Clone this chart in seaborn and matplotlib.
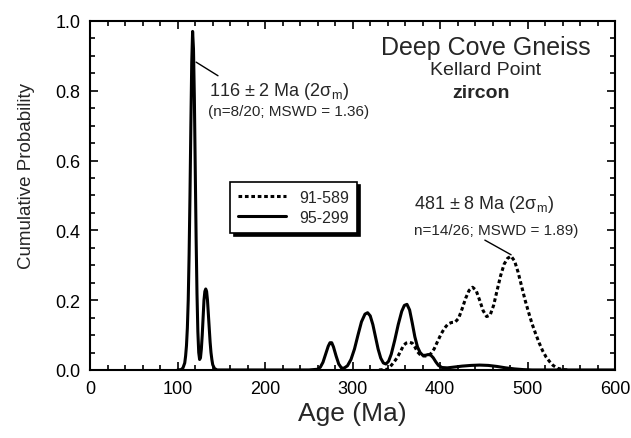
import matplotlib
matplotlib.use("Agg")
import matplotlib.pyplot as plt
from matplotlib.ticker import MultipleLocator
import seaborn as sns

# probability density curves
age_95299 = [100, 104, 106, 108, 109, 110, 111, 112, 113, 114, 115, 116, 117, 118, 119,
             120, 121, 122, 123, 124, 125, 126, 127, 128, 129, 130, 131, 132, 133, 134,
             135, 136, 137, 138, 139, 140, 142, 145, 150,
             250, 260, 263, 266, 269, 272, 274, 276, 278, 281, 284, 287, 290, 294, 298,
             302, 306, 310, 314, 317, 320, 323, 326, 329, 332, 335, 338, 341, 344, 348,
             352, 356, 359, 362, 365, 368, 371, 374, 377, 380, 383, 386, 389, 392, 395,
             398, 402, 408, 415, 425, 435, 445, 455, 465, 475, 485, 495, 505, 600]
prob_95299 = [0, 0.001, 0.006, 0.02, 0.04, 0.07, 0.12, 0.2, 0.33, 0.5, 0.7, 0.88, 0.97, 0.92, 0.78,
              0.58, 0.38, 0.22, 0.11, 0.05, 0.03, 0.035, 0.06, 0.1, 0.15, 0.2, 0.225, 0.232, 0.225, 0.2,
              0.16, 0.12, 0.08, 0.05, 0.03, 0.015, 0.004, 0.0, 0.0,
              0, 0.002, 0.008, 0.022, 0.045, 0.068, 0.078, 0.078, 0.066, 0.04, 0.017, 0.006, 0.005, 0.012, 0.03,
              0.06, 0.1, 0.138, 0.16, 0.164, 0.155, 0.13, 0.095, 0.06, 0.034, 0.02, 0.017, 0.025, 0.045, 0.085,
              0.13, 0.168, 0.185, 0.188, 0.172, 0.135, 0.095, 0.066, 0.05, 0.042, 0.042, 0.044, 0.043, 0.035, 0.023,
              0.013, 0.007, 0.006, 0.008, 0.011, 0.013, 0.014, 0.013, 0.01, 0.006, 0.003, 0.001, 0, 0]

age_91589 = [330, 340, 343, 347, 351, 355, 358, 361, 365, 368, 371, 374, 377, 381, 385,
             389, 393, 397, 401, 405, 409, 413, 417, 421, 425, 429, 433, 437, 441, 445,
             449, 453, 457, 461, 465, 469, 473, 477, 481, 485, 489, 493, 497, 501, 505,
             509, 513, 517, 521, 525, 529, 534, 540, 546]
prob_91589 = [0, 0.002, 0.01, 0.022, 0.036, 0.055, 0.07, 0.077, 0.079, 0.077, 0.066, 0.052, 0.044, 0.04, 0.04,
              0.046, 0.06, 0.082, 0.103, 0.12, 0.132, 0.136, 0.137, 0.148, 0.175, 0.205, 0.228, 0.237, 0.228, 0.2,
              0.17, 0.153, 0.157, 0.185, 0.228, 0.27, 0.303, 0.32, 0.326, 0.312, 0.28, 0.24, 0.2, 0.165, 0.132,
              0.104, 0.078, 0.055, 0.037, 0.024, 0.013, 0.005, 0.001, 0]

sns.set_style("ticks")
plt.rcParams["font.family"] = ["Liberation Sans", "DejaVu Sans"]
plt.rcParams["mathtext.fontset"] = "custom"
plt.rcParams["mathtext.rm"] = "Liberation Sans"
plt.rcParams["mathtext.it"] = "Liberation Sans:italic"

fig = plt.figure(figsize=(6.31, 4.39), dpi=100)
ax = fig.add_axes([0.143, 0.155, 0.832, 0.795])

sns.lineplot(x=age_91589, y=prob_91589, ax=ax, color="black", lw=2.2,
             estimator=None, sort=False, label="91-589")
sns.lineplot(x=age_95299, y=prob_95299, ax=ax, color="black", lw=2.2,
             estimator=None, sort=False, label="95-299")
ax.lines[0].set_dashes((1.2, 0.9))

ax.set_xlim(0, 600)
ax.set_ylim(0, 1.0)
ax.xaxis.set_major_locator(MultipleLocator(100))
ax.xaxis.set_minor_locator(MultipleLocator(20))
ax.yaxis.set_major_locator(MultipleLocator(0.2))
ax.yaxis.set_minor_locator(MultipleLocator(0.05))
ax.yaxis.set_major_formatter(matplotlib.ticker.FormatStrFormatter("%.1f"))
ax.tick_params(which="both", direction="in", top=True, right=True, colors="black",
               labelsize=13, width=1.2, pad=7)
ax.tick_params(which="major", length=6)
ax.tick_params(which="minor", length=3.5)
for s in ax.spines.values():
    s.set_linewidth(1.5)
    s.set_color("black")

ax.set_xlabel("Age (Ma)", fontsize=19, labelpad=3)
ax.set_ylabel("Cumulative Probability", fontsize=13.5)
ax.yaxis.set_label_coords(-0.105, 0.56)

ax.text(452, 0.925, "Deep Cove Gneiss", fontsize=18, ha="center", va="center")
ax.text(452, 0.862, "Kellard Point", fontsize=14, ha="center", va="center")
ax.text(447, 0.796, "zircon", fontsize=14, fontweight="bold", ha="center", va="center")

ax.text(136, 0.80, "116 ± 2 Ma (2σ$_\\mathrm{m}$)", fontsize=13, ha="left", va="center")
ax.text(135, 0.743, "(n=8/20; MSWD = 1.36)", fontsize=11, ha="left", va="center")
ax.plot([121, 146], [0.882, 0.843], color="black", lw=1.0)

ax.text(370, 0.476, "481 ± 8 Ma (2σ$_\\mathrm{m}$)", fontsize=13, ha="left", va="center")
ax.text(370, 0.40, "n=14/26; MSWD = 1.89)", fontsize=11, ha="left", va="center")
ax.plot([451, 481], [0.372, 0.33], color="black", lw=1.0)

leg = ax.legend(loc="upper left", bbox_to_anchor=(0.267, 0.539), borderaxespad=0,
                fontsize=11.5, handlelength=3.0, frameon=True, fancybox=False,
                shadow={"color": "black", "alpha": 1, "ox": 2.5, "oy": -2.5},
                edgecolor="black", framealpha=1, borderpad=0.5, labelspacing=0.3)
leg.get_frame().set_linewidth(1.2)

fig.savefig("out.png", dpi=100)
